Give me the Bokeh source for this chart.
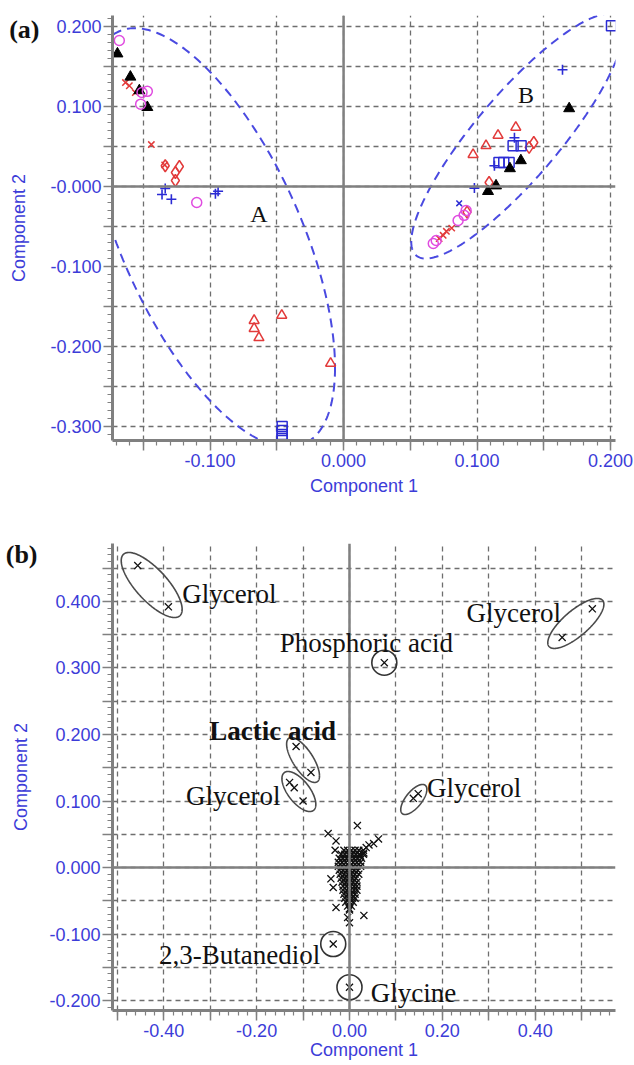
import numpy as np
from bokeh.plotting import figure
from bokeh.models import FixedTicker, Span, Label, Range1d, LinearAxis
from bokeh.layouts import column
from bokeh.embed import file_html
from bokeh.resources import INLINE

# ================= Panel (a): scores plot =================
circ_x = [-0.168, -0.151, -0.147, -0.152, -0.110, 0.0918, 0.0903, 0.0858, 0.0694, 0.0672]
circ_y = [0.1825, 0.1175, 0.119, 0.103, -0.020, -0.030, -0.036, -0.0425, -0.0675, -0.0713]

trif_x = [-0.1694, -0.1597, -0.153, -0.147, 0.169, 0.1328, 0.1246, 0.1142, 0.1082]
trif_y = [0.166, 0.137, 0.120, 0.099, 0.0975, 0.0325, 0.0225, 0.001, -0.006]

redx_x = [-0.1634, -0.1605, -0.156, -0.144, -0.134, 0.081, 0.077, 0.0746, 0.0716]
redx_y = [0.130, 0.126, 0.1175, 0.0525, 0.027, -0.052, -0.056, -0.061, -0.065]

dia_x = [-0.1336, -0.123, -0.126, -0.126, 0.1425, 0.139, 0.109, 0.0925]
dia_y = [0.026, 0.025, 0.0175, 0.0075, 0.055, 0.049, 0.005, -0.032]

plus_x = [-0.1336, -0.136, -0.129, -0.096, -0.094, 0.164, 0.128, 0.113, 0.098]
plus_y = [-0.0025, -0.010, -0.016, -0.009, -0.006, 0.146, 0.061, 0.026, -0.002]

bluex_x = [0.0866]
bluex_y = [-0.021]

trio_x = [-0.067, -0.067, -0.0634, -0.0463, -0.0097, 0.129, 0.1157, 0.1067, 0.097]
trio_y = [-0.1675, -0.1775, -0.189, -0.161, -0.221, 0.074, 0.064, 0.051, 0.040]

sq_x = [-0.046, -0.046, -0.046, -0.046, 0.2007, 0.127, 0.133, 0.1164, 0.120, 0.124]
sq_y = [-0.300, -0.305, -0.310, -0.315, 0.201, 0.051, 0.051, 0.030, 0.030, 0.030]

# cluster ellipses (centre, half-extent in x / y, x-y correlation)
grp_names = ["A", "B"]
grp_cx = [-0.099, 0.1302]
grp_cy = [-0.064, 0.063]
grp_rx = [0.0926, 0.0795]
grp_ry = [0.262, 0.153]
grp_rho = [-0.62, 0.863]
grp_lab_x = [-0.070, 0.1306]
grp_lab_y = [-0.034, 0.114]

a_xticks = [-0.15, -0.1, -0.05, 0.0, 0.05, 0.1, 0.15, 0.2]
a_xlabels = {-0.1: "-0.100", 0.0: "0.000", 0.1: "0.100", 0.2: "0.200"}
a_yticks = [-0.3, -0.25, -0.2, -0.15, -0.1, -0.05, 0.0, 0.05, 0.1, 0.15, 0.2]
a_ylabels = {-0.3: "-0.300", -0.2: "-0.200", -0.1: "-0.100", 0.0: "-0.000",
             0.1: "0.100", 0.2: "0.200"}

# ================= Panel (b): loadings plot =================
# labelled / outlying compounds
out_x = [-0.456, -0.390, 0.523, 0.458, 0.075, -0.115, -0.083, -0.129, -0.119, -0.100,
         0.148, 0.1375, -0.035, 0.000,
         0.017, -0.046, 0.0625, 0.052, -0.029, -0.031, 0.031, 0.023, -0.035, -0.040,
         -0.029, 0.000, 0.031, 0.000, -0.004, 0.030, 0.036, 0.042]
out_y = [0.454, 0.392, 0.389, 0.346, 0.308, 0.182, 0.143, 0.128, 0.120, 0.100,
         0.111, 0.104, -0.115, -0.180,
         0.063, 0.051, 0.043, 0.036, 0.040, 0.026, 0.022, 0.018, -0.030, -0.017,
         -0.060, -0.062, -0.072, -0.083, -0.075, 0.026, 0.030, 0.034]
# dense core of compounds near the origin
core_x = [-0.012, -0.004, 0.004, 0.012, 0.020,
          -0.018, -0.010, -0.002, 0.006, 0.014, 0.022, 0.030,
          -0.022, -0.014, -0.006, 0.002, 0.010, 0.018, 0.026,
          -0.024, -0.016, -0.008, 0.000, 0.008, 0.016, 0.024,
          -0.024, -0.016, -0.008, 0.000, 0.008, 0.016, 0.024,
          -0.022, -0.014, -0.006, 0.002, 0.010, 0.018,
          -0.020, -0.012, -0.004, 0.004, 0.012, 0.020,
          -0.018, -0.010, -0.002, 0.006, 0.014,
          -0.016, -0.008, 0.000, 0.008, 0.016,
          -0.014, -0.006, 0.002, 0.010, 0.016,
          -0.014, -0.006, 0.002, 0.010, 0.016,
          -0.012, -0.004, 0.004, 0.012,
          -0.010, -0.002, 0.006, 0.012,
          -0.008, 0.000, 0.008,
          -0.004, 0.004,
          0.000]
core_y = [0.026, 0.026, 0.026, 0.026, 0.026,
          0.020, 0.020, 0.020, 0.020, 0.020, 0.020, 0.020,
          0.014, 0.014, 0.014, 0.014, 0.014, 0.014, 0.014,
          0.008, 0.008, 0.008, 0.008, 0.008, 0.008, 0.008,
          0.002, 0.002, 0.002, 0.002, 0.002, 0.002, 0.002,
          -0.004, -0.004, -0.004, -0.004, -0.004, -0.004,
          -0.010, -0.010, -0.010, -0.010, -0.010, -0.010,
          -0.016, -0.016, -0.016, -0.016, -0.016,
          -0.022, -0.022, -0.022, -0.022, -0.022,
          -0.028, -0.028, -0.028, -0.028, -0.028,
          -0.034, -0.034, -0.034, -0.034, -0.034,
          -0.040, -0.040, -0.040, -0.040,
          -0.046, -0.046, -0.046, -0.046,
          -0.052, -0.052, -0.052,
          -0.058, -0.058,
          -0.064]

# compounds circled individually
single_x = [0.075, -0.035, 0.000]
single_y = [0.308, -0.115, -0.180]

# ellipses around compound pairs (centre, half-extent x / y, correlation)
pair_cx = [-0.426, 0.4875, -0.100, -0.109, 0.1385]
pair_cy = [0.4248, 0.367, 0.1617, 0.1143, 0.1023]
pair_rx = [0.0656, 0.0604, 0.0354, 0.0365, 0.0281]
pair_ry = [0.0489, 0.0376, 0.0338, 0.0301, 0.0226]
pair_rho = [-0.749, 0.767, -0.707, -0.64, 0.67]

cmp_names = ["Glycerol", "Glycerol", "Phosphoric acid", "Lactic acid", "Glycerol",
             "Glycerol", "2,3-Butanediol", "Glycine"]
cmp_x = [-0.3604, 0.252, -0.150, -0.302, -0.352, 0.1667, -0.410, 0.046]
cmp_y = [0.412, 0.382, 0.337, 0.206, 0.108, 0.119, -0.132, -0.188]
cmp_bold = [False, False, False, True, False, False, False, False]

b_xticks = [-0.5, -0.4, -0.3, -0.2, -0.1, 0.0, 0.1, 0.2, 0.3, 0.4, 0.5]
b_xlabels = {-0.4: "-0.40", -0.2: "-0.20", 0.0: "0.00", 0.2: "0.20", 0.4: "0.40"}
b_yticks = [-0.2, -0.15, -0.1, -0.05, 0.0, 0.05, 0.1, 0.15, 0.2, 0.25, 0.3, 0.35, 0.4, 0.45]
b_ylabels = {-0.2: "-0.200", -0.1: "-0.100", 0.0: "0.000", 0.1: "0.100", 0.2: "0.200",
             0.3: "0.300", 0.4: "0.400"}

panel_tags = ["(a)", "(b)"]
panel_tag_y = [0.196, 0.4707]

# ================= styling =================
AXIS_GRAY = "#808080"
GRID_GRAY = "#6e6e6e"
TICK_BLUE = "#3c3cd8"
DASH_BLUE = "#4a4ae0"
RED = "#e23a3a"
MAG = "#e04ce0"
BLUE = "#2b2bd4"


def ellipse_path(cx, cy, rx, ry, rho, n=240):
    t = np.linspace(0, 2 * np.pi, n)
    phi = np.arccos(rho)
    return list(cx + rx * np.cos(t)), list(cy + ry * np.cos(t + phi))


def style_axis(ax, standoff):
    ax.axis_line_color = AXIS_GRAY
    ax.axis_line_width = 3
    ax.major_tick_line_color = AXIS_GRAY
    ax.major_tick_line_width = 1.5
    ax.minor_tick_line_color = AXIS_GRAY
    ax.minor_tick_line_width = 1.2
    ax.major_tick_in = 0
    ax.major_tick_out = 10
    ax.minor_tick_in = 0
    ax.minor_tick_out = 5
    ax.major_label_text_color = TICK_BLUE
    ax.major_label_text_font = "Liberation Sans"
    ax.major_label_text_font_size = "18px"
    ax.major_label_standoff = standoff


def style_title(ax, label, label_standoff):
    ax.axis_label = label
    ax.axis_label_text_color = TICK_BLUE
    ax.axis_label_text_font = "Liberation Sans"
    ax.axis_label_text_font_size = "18px"
    ax.axis_label_text_font_style = "normal"
    ax.axis_label_standoff = label_standoff


def tag_axis(tag, y, standoff, label_standoff):
    # outer left axis carrying the panel tag and the "Component 2" title
    ax = LinearAxis(ticker=FixedTicker(ticks=[y], minor_ticks=[]),
                    major_label_overrides={y: tag},
                    axis_line_color=None, major_tick_line_color=None, minor_tick_line_color=None,
                    major_tick_in=0, major_tick_out=0, minor_tick_in=0, minor_tick_out=0,
                    major_label_standoff=standoff,
                    major_label_text_font="Liberation Serif", major_label_text_font_style="bold",
                    major_label_text_font_size="26px", major_label_text_color="#111111")
    style_title(ax, "Component 2", label_standoff)
    return ax


def overrides(ticks, labels):
    return {t: labels.get(t, "") for t in ticks}


def style_grid(g):
    g.grid_line_color = GRID_GRAY
    g.grid_line_width = 1.3
    g.grid_line_dash = "5 4"


# ---------------- figure (a) ----------------
p1 = figure(width=634, height=505, x_range=Range1d(-0.1731, 0.2037), y_range=Range1d(-0.3175, 0.2138),
            toolbar_location=None, output_backend="svg",
            min_border_left=110, min_border_right=19, min_border_top=15, min_border_bottom=65)
p1.outline_line_color = None

xa = p1.xaxis[0]
xa.ticker = FixedTicker(ticks=a_xticks, minor_ticks=[round(v, 2) for v in np.arange(-0.17, 0.2001, 0.01)])
style_axis(xa, 3)
style_title(xa, "Component 1", 6)
xa.major_label_overrides = overrides(a_xticks, a_xlabels)
ya = p1.yaxis[0]
ya.ticker = FixedTicker(ticks=a_yticks, minor_ticks=[round(v, 2) for v in np.arange(-0.31, 0.2101, 0.01)])
style_axis(ya, 2)
ya.major_tick_out = 9
ya.major_label_overrides = overrides(a_yticks, a_ylabels)
p1.add_layout(tag_axis(panel_tags[0], panel_tag_y[0], 8, -23), "left")
style_grid(p1.xgrid[0])
style_grid(p1.ygrid[0])

p1.add_layout(Span(location=0, dimension="height", line_color=AXIS_GRAY, line_width=2.5))
p1.add_layout(Span(location=0, dimension="width", line_color=AXIS_GRAY, line_width=2.5))

exs, eys = [], []
for i in range(len(grp_names)):
    ex, ey = ellipse_path(grp_cx[i], grp_cy[i], grp_rx[i], grp_ry[i], grp_rho[i])
    exs.append(ex)
    eys.append(ey)
p1.multi_line(exs, eys, line_color=DASH_BLUE, line_width=2, line_dash="9 6")

p1.scatter(trio_x, trio_y, marker="triangle", size=10, fill_color=None, line_color=RED, line_width=1.5)
p1.scatter(dia_x, dia_y, marker="diamond", size=12, fill_color=None, line_color=RED, line_width=1.5)
p1.scatter(sq_x, sq_y, marker="square", size=10, fill_color=None, line_color=BLUE, line_width=1.5)
p1.scatter(plus_x, plus_y, marker="cross", size=10, line_color=BLUE, line_width=1.6)
p1.scatter(bluex_x, bluex_y, marker="x", size=8, line_color=BLUE, line_width=1.5)
p1.scatter(redx_x, redx_y, marker="x", size=9, line_color=RED, line_width=1.5)
p1.scatter(trif_x, trif_y, marker="triangle", size=11, fill_color="black", line_color="black")
p1.scatter(circ_x, circ_y, marker="circle", size=10, fill_color=None, line_color=MAG, line_width=1.5)

for i, nm in enumerate(grp_names):
    p1.add_layout(Label(x=grp_lab_x[i], y=grp_lab_y[i], text=nm, text_font="Liberation Serif",
                        text_font_size="24px", text_color="#111111", text_baseline="alphabetic"))

# ---------------- figure (b) ----------------
p2 = figure(width=634, height=560, x_range=Range1d(-0.5104, 0.5729), y_range=Range1d(-0.2150, 0.4872),
            toolbar_location=None, output_backend="svg",
            min_border_left=112, min_border_right=2, min_border_top=38, min_border_bottom=55)
p2.outline_line_color = None

xb = p2.xaxis[0]
xb.ticker = FixedTicker(ticks=b_xticks, minor_ticks=[round(v, 2) for v in np.arange(-0.5, 0.5601, 0.02)])
style_axis(xb, 3)
style_title(xb, "Component 1", 0)
xb.major_label_overrides = overrides(b_xticks, b_xlabels)
yb = p2.yaxis[0]
yb.ticker = FixedTicker(ticks=b_yticks, minor_ticks=[round(v, 2) for v in np.arange(-0.21, 0.4801, 0.01)])
style_axis(yb, 2)
yb.major_label_overrides = overrides(b_yticks, b_ylabels)
p2.add_layout(tag_axis(panel_tags[1], panel_tag_y[1], 9, -28), "left")
style_grid(p2.xgrid[0])
style_grid(p2.ygrid[0])

p2.add_layout(Span(location=0, dimension="height", line_color=AXIS_GRAY, line_width=2.5))
p2.add_layout(Span(location=0, dimension="width", line_color=AXIS_GRAY, line_width=2.5))

pxs, pys = [], []
for i in range(len(pair_cx)):
    ex, ey = ellipse_path(pair_cx[i], pair_cy[i], pair_rx[i], pair_ry[i], pair_rho[i])
    pxs.append(ex)
    pys.append(ey)
p2.multi_line(pxs, pys, line_color="#4a4a4a", line_width=1.6)

p2.scatter(out_x, out_y, marker="x", size=10, line_color="#111111", line_width=1.3)
p2.scatter(core_x, core_y, marker="x", size=10, line_color="#111111", line_width=1.4)
p2.scatter(single_x, single_y, marker="circle", size=25, fill_color=None, line_color="#333333",
           line_width=1.6)

for i, nm in enumerate(cmp_names):
    p2.add_layout(Label(x=cmp_x[i], y=cmp_y[i], text=nm, text_font="Liberation Serif",
                        text_font_style="bold" if cmp_bold[i] else "normal",
                        text_font_size="27px", text_color="#111111", text_baseline="alphabetic"))

layout = column(p1, p2)
open("out.html", "w").write(file_html(layout, INLINE))
